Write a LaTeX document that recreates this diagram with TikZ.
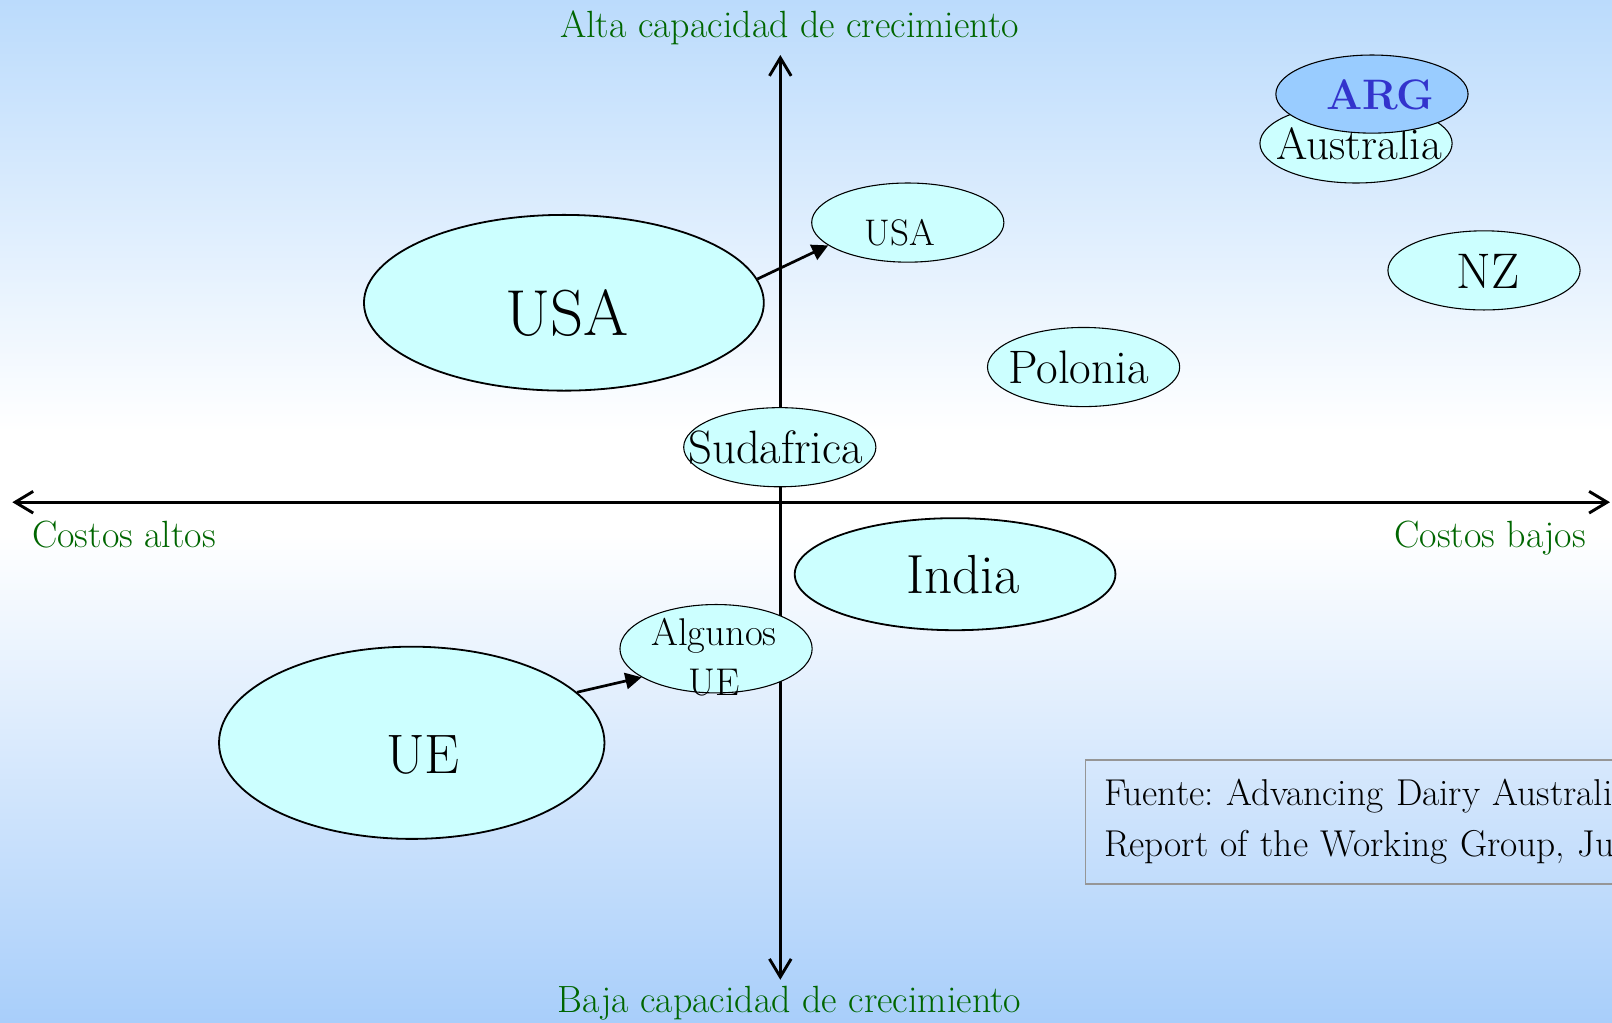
\documentclass[tikz,border=0pt]{standalone}
\usepackage{xcolor}
\usepackage{tikz}
\usetikzlibrary{arrows.meta}
\usetikzlibrary{shapes}
\usetikzlibrary{shapes.geometric}
\usetikzlibrary{positioning}
\definecolor{bgtop}{RGB}{187,219,252}
\definecolor{bgbot}{RGB}{168,206,250}
\definecolor{cyanfill}{RGB}{204,255,255}
\definecolor{argfill}{RGB}{153,204,255}
\definecolor{argtext}{RGB}{51,51,204}
\definecolor{titlegreen}{RGB}{0,102,0}
\definecolor{boxgray}{RGB}{150,150,150}
\tikzset{>=latex}
\tikzstyle{axe} = [line width=1.6pt, {Straight Barb[length=10pt,width=12pt]}-{Straight Barb[length=10pt,width=12pt]}]
\tikzstyle{lnk} = [line width=1.5pt, -{Triangle[length=9pt,width=9pt]}]
\tikzstyle{ttl} = [text=titlegreen, font=\fontsize{21}{25}\selectfont]
\tikzstyle{cty} = [ellipse, draw=black, line width=0.6pt, fill=cyanfill, inner sep=0pt, minimum width=3.74cm, minimum height=1.54cm]
\tikzstyle{big} = [cty, line width=1pt]
\tikzstyle{src} = [rectangle, draw=boxgray, line width=1pt, align=left, text width=12cm, inner xsep=0.36cm, minimum height=2.42cm, font=\fontsize{20.7}{28}\selectfont\frenchspacing]

\begin{document}
\begin{tikzpicture}[x=0.02cm, y=-0.02cm]
\clip (0,0) rectangle (1568,995);
\shade [top color=bgtop, bottom color=white] (0,0) rectangle (1568,420);
\fill [white] (0,419) rectangle (1568,521);
\shade [top color=white, bottom color=bgbot] (0,520) rectangle (1568,995);
% axes
\coordinate (W) at (12,488.5);
\coordinate (E) at (1566,488.5);
\coordinate (N) at (759,53.5);
\coordinate (S) at (759,953);
\draw [axe] (W) -- (E);
\draw [axe] (N) -- (S);
\node [ttl, anchor=base] (ALTA) at (768,36) {Alta capacidad de crecimiento};
\node [ttl, anchor=base] (BAJA) at (768,985) {Baja capacidad de crecimiento};
\node [ttl, anchor=base west, inner sep=0pt] (CA) at (31,533) {Costos altos};
\node [ttl, anchor=base east, inner sep=0pt] (CB) at (1543,533) {Costos bajos};
% countries
\node [big, minimum width=7.78cm, minimum height=3.42cm, label={[font=\fontsize{36}{42}\selectfont, xshift=0.06cm, yshift=-0.2cm]center:USA}] (USA) at (548.5,294.5) {};
\node [cty, label={[font=\fontsize{20.5}{24}\selectfont, xshift=-0.16cm, yshift=-0.2cm]center:USA}] (USAs) at (883,216.5) {};
\node [cty, label={[font=\fontsize{26}{31}\selectfont, xshift=-0.1cm]center:Polonia}] (POL) at (1054,357) {};
\node [cty, label={[font=\fontsize{27.7}{33}\selectfont, xshift=0.08cm, yshift=-0.02cm]center:NZ}] (NZ) at (1443.5,263) {};
\node [cty, label={[font=\fontsize{25}{30}\selectfont, xshift=0.06cm]center:Australia}] (AUS) at (1319,139.5) {};
\node [cty, fill=argfill, minimum height=1.52cm, label={[text=argtext, font=\fontsize{23.6}{28}\selectfont\bfseries, xshift=0.16cm, yshift=-0.02cm]center:ARG}] (ARG) at (1334.5,91.5) {};
\node [cty, label={[font=\fontsize{25.9}{31}\selectfont, xshift=-0.08cm]center:Sudafrica}] (SUD) at (758.5,435) {};
\node [big, minimum width=6.24cm, minimum height=2.18cm, label={[font=\fontsize{30.5}{36}\selectfont, xshift=0.16cm]center:India}] (IND) at (929,558.5) {};
\node [cty, minimum height=1.72cm, label={[align=center, font=\fontsize{21.4}{27.6}\selectfont, xshift=-0.04cm, yshift=-0.17cm]center:Algunos\\UE}] (ALG) at (696.5,631) {};
\node [big, minimum width=7.5cm, minimum height=3.74cm, label={[font=\fontsize{30.8}{36}\selectfont, xshift=0.22cm, yshift=-0.24cm]center:UE}] (UE) at (400.5,722.5) {};
% moves
\draw [lnk] (USA.7) to (USAs.196);
\draw [lnk] (UE.17) to (ALG.201);
% source
\node [src, anchor=north west] (SRC) at (1055,738) {Fuente: Advancing Dairy Australi\\Report of the Working Group, Ju};
\end{tikzpicture}
\end{document}
